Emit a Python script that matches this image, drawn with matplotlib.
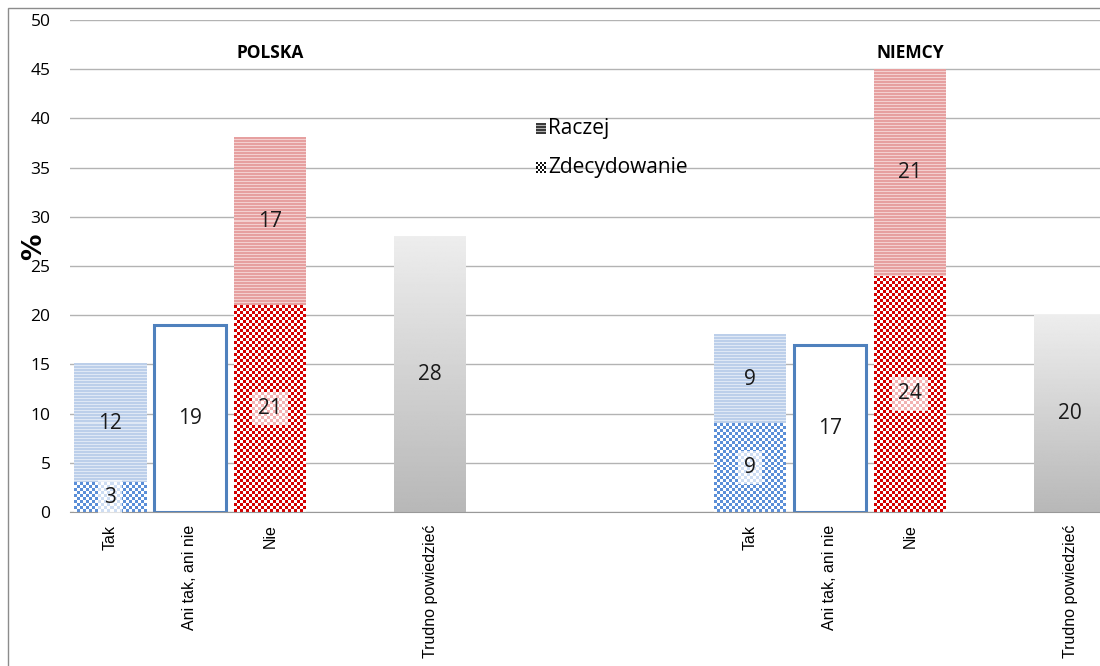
import numpy as np
import matplotlib
matplotlib.use("Agg")
import matplotlib.pyplot as plt
from matplotlib.patches import Rectangle

# data
labels = ["Tak", "Ani tak, ani nie", "Nie", "", "Trudno powiedzieć",
          "", "", "", "Tak", "Ani tak, ani nie", "Nie", "", "Trudno powiedzieć"]
countries = ["POLSKA", "NIEMCY"]
tak_zdecydowanie = [3, 9]
tak_raczej = [12, 9]
ani_tak_ani_nie = [19, 17]
nie_zdecydowanie = [21, 24]
nie_raczej = [17, 21]
trudno = [28, 20]
group_start = [0, 8]

W = 0.9
fig = plt.figure(figsize=(11, 6.66), dpi=100)
ax = fig.add_axes([70 / 1100, 154 / 666, 1040 / 1100, 492 / 666])
ax.set_xlim(-0.5, 12.5)
ax.set_ylim(0, 50)

PX_X = 80.0        # pixels per x unit
PX_Y = 492 / 50.0  # pixels per y unit


def pattern(x0, x1, y0, y1, kind, fg, bg, cell=3):
    fg = np.array(matplotlib.colors.to_rgb(fg))
    bg = np.array(matplotlib.colors.to_rgb(bg))
    if kind == "check":
        nx = max(1, int(round((x1 - x0) * PX_X / cell)))
        ny = max(1, int(round((y1 - y0) * PX_Y / cell)))
        ii, jj = np.meshgrid(np.arange(ny), np.arange(nx), indexing="ij")
        m = ((ii + jj) % 2 == 0)
    else:
        ny = max(1, int(round((y1 - y0) * PX_Y)))
        ii = np.arange(ny)[:, None] * np.ones((1, 4))
        m = (ii % 3 != 2)
    img = np.where(m[..., None], fg, bg)
    ax.imshow(img, extent=[x0, x1, y0, y1], origin="upper", aspect="auto",
              interpolation="nearest", zorder=3)


def label(x, y, s, box=False):
    kw = {}
    if box:
        kw["bbox"] = dict(boxstyle="square,pad=0.3", fc="white", ec="none", alpha=0.7)
    ax.text(x, y, s, ha="center", va="center", fontsize=15, family="Open Sans",
            color="#1a1a1a", zorder=6, **kw)


for g in range(2):
    s = group_start[g]
    # Tak
    x = s
    z, r = tak_zdecydowanie[g], tak_raczej[g]
    pattern(x - W / 2, x + W / 2, 0, z, "check", "#5b8fd8", "#ffffff")
    pattern(x - W / 2, x + W / 2, z, z + r, "stripe", "#bccfea", "#dfe8f5")
    label(x, z / 2, str(z), box=True)
    label(x, z + r / 2, str(r))
    # Ani tak, ani nie
    x = s + 1
    v = ani_tak_ani_nie[g]
    ax.bar(x, v, width=W, color="white", edgecolor="#4f81bd", linewidth=2.2, zorder=3)
    label(x, v / 2, str(v))
    # Nie
    x = s + 2
    z, r = nie_zdecydowanie[g], nie_raczej[g]
    pattern(x - W / 2, x + W / 2, 0, z, "check", "#d40000", "#ffffff")
    pattern(x - W / 2, x + W / 2, z, z + r, "stripe", "#e6a0a0", "#f3d0d0")
    label(x, z / 2, str(z), box=True)
    label(x, z + r / 2, str(r))
    # Trudno powiedziec
    x = s + 4
    v = trudno[g]
    grad = np.linspace(0.93, 0.72, 200)[:, None] * np.ones((1, 2))
    ax.imshow(grad, extent=[x - W / 2, x + W / 2, 0, v], origin="upper", aspect="auto",
              cmap="gray", vmin=0, vmax=1, zorder=3)
    label(x, v / 2, str(v))
    # title
    ax.text(s + 2, 46.6, countries[g], ha="center", va="center", fontsize=12.5,
            fontweight="bold", family="Open Sans", zorder=6)

# legend
pattern(5.325, 5.45, 38.45, 39.55, "stripe", "#3a3a3a", "#b0b0b0")
ax.text(5.475, 39.0, "Raczej", va="center", ha="left", fontsize=15, family="Open Sans", zorder=6)
pattern(5.325, 5.45, 34.45, 35.55, "check", "#111111", "#ffffff", cell=2)
ax.text(5.475, 35.0, "Zdecydowanie", va="center", ha="left", fontsize=15, family="Open Sans", zorder=6)

ax.set_xticks(range(len(labels)))
ax.set_xticklabels(labels, rotation=90, fontsize=11.5, family="Liberation Sans")
ax.tick_params(axis="x", length=0, pad=9)
ax.set_yticks(range(0, 51, 5))
ax.tick_params(axis="y", length=0, labelsize=12.5, pad=14)
for t in ax.get_yticklabels():
    t.set_family("Open Sans")
ax.yaxis.grid(True, color="#b3b3b3", linewidth=1)
ax.set_axisbelow(True)
for sp in ["left", "right", "top"]:
    ax.spines[sp].set_visible(False)
ax.spines["bottom"].set_color("#999999")
ax.spines["bottom"].set_zorder(5)

ax.set_ylabel("%", fontsize=19, fontweight="bold", rotation=90, labelpad=2)
ax.yaxis.set_label_coords(-0.022, 0.54)

fig.patches.append(Rectangle((8 / 1100, -0.1), 1.2, 0.1 + (666 - 8) / 666,
                             transform=fig.transFigure, fill=False,
                             edgecolor="#8c8c8c", linewidth=1))

fig.savefig("out.png", dpi=100)
